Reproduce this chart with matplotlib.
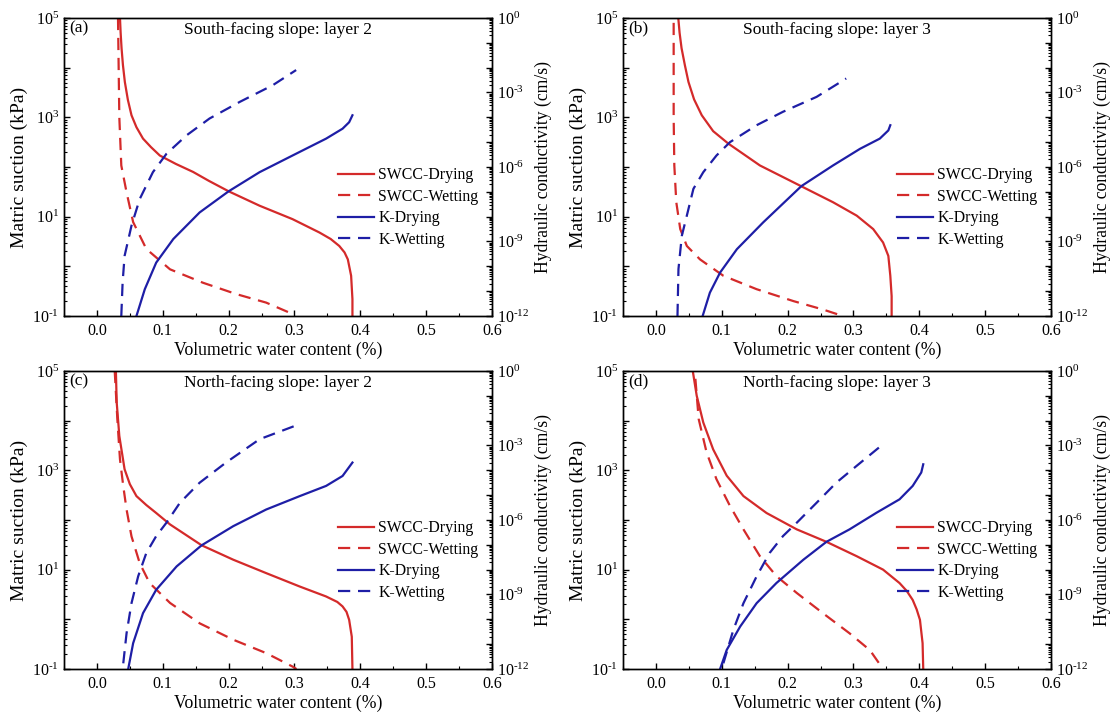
import numpy as np
import matplotlib
matplotlib.use("Agg")
import matplotlib.pyplot as plt
from matplotlib.ticker import LogLocator, FuncFormatter, MultipleLocator, NullFormatter

plt.rcParams['font.family'] = ['Liberation Serif', 'DejaVu Serif']
plt.rcParams['mathtext.fontset'] = 'custom'
plt.rcParams['mathtext.rm'] = 'Liberation Serif'
plt.rcParams['mathtext.it'] = 'Liberation Serif:italic'

# ---- values: theta (-) and log10 of suction (kPa) / K (cm/s)
panel_tags = ['(a)', '(b)', '(c)', '(d)']
panel_titles = ['South-facing slope: layer 2', 'South-facing slope: layer 3',
                'North-facing slope: layer 2', 'North-facing slope: layer 3']

# (a) south, layer 2
a_sd_theta = [0.035, 0.036, 0.0374, 0.0395, 0.0424, 0.047, 0.0525, 0.060, 0.070, 0.082, 0.0955, 0.12, 0.146,
              0.17, 0.200, 0.247, 0.297, 0.338, 0.355, 0.368, 0.376, 0.381, 0.386, 0.388, 0.388]
a_sd_logpsi = [5.0, 4.7, 4.39, 4.05, 3.71, 3.35, 3.04, 2.8, 2.57, 2.4, 2.23, 2.06, 1.90,
               1.72, 1.51, 1.22, 0.95, 0.68, 0.55, 0.41, 0.28, 0.14, -0.19, -0.66, -1.0]
a_sw_theta = [0.032, 0.033, 0.034, 0.037, 0.045, 0.055, 0.075, 0.111, 0.161, 0.212, 0.257, 0.292, 0.297]
a_sw_logpsi = [5.0, 4.0, 3.0, 2.03, 1.49, 0.89, 0.35, -0.06, -0.33, -0.56, -0.73, -0.93, -1.0]
a_kd_theta = [0.060, 0.0727, 0.090, 0.116, 0.156, 0.200, 0.247, 0.297, 0.348, 0.373, 0.383, 0.388]
a_kd_logk = [-12.0, -10.92, -9.85, -8.90, -7.83, -6.98, -6.21, -5.54, -4.86, -4.46, -4.2, -3.92]
a_kw_theta = [0.037, 0.039, 0.042, 0.0525, 0.065, 0.085, 0.1056, 0.136, 0.171, 0.217, 0.267, 0.3025]
a_kw_logk = [-12.0, -10.65, -9.58, -8.36, -7.29, -6.21, -5.47, -4.73, -4.05, -3.38, -2.71, -2.10]

# (b) south, layer 3
b_sd_theta = [0.034, 0.036, 0.039, 0.044, 0.0495, 0.058, 0.0697, 0.087, 0.110, 0.158, 0.221, 0.269,
              0.305, 0.330, 0.345, 0.353, 0.356, 0.358, 0.358]
b_sd_logpsi = [5.0, 4.7, 4.39, 4.05, 3.71, 3.36, 3.04, 2.72, 2.47, 2.03, 1.61, 1.29,
               1.02, 0.75, 0.48, 0.21, -0.19, -0.6, -1.0]
b_sw_theta = [0.027, 0.027, 0.028, 0.031, 0.037, 0.047, 0.067, 0.1025, 0.153, 0.209, 0.254, 0.284]
b_sw_logpsi = [4.9, 3.0, 2.03, 1.29, 0.75, 0.41, 0.14, -0.19, -0.46, -0.70, -0.87, -1.0]
b_kd_theta = [0.071, 0.082, 0.0975, 0.123, 0.163, 0.221, 0.269, 0.310, 0.340, 0.353, 0.356]
b_kd_logk = [-12.0, -11.06, -10.25, -9.31, -8.23, -6.77, -5.94, -5.27, -4.86, -4.53, -4.32]
b_kw_theta = [0.0328, 0.0343, 0.0394, 0.047, 0.057, 0.072, 0.092, 0.1126, 0.153, 0.193, 0.244, 0.289]
b_kw_logk = [-12.0, -10.11, -8.77, -7.96, -6.88, -6.21, -5.54, -5.0, -4.32, -3.78, -3.18, -2.44]

# (c) north, layer 2
c_sd_theta = [0.0288, 0.030, 0.034, 0.042, 0.050, 0.060, 0.075, 0.090, 0.111, 0.159, 0.207, 0.257,
              0.308, 0.348, 0.365, 0.373, 0.379, 0.383, 0.387, 0.388]
c_sd_logpsi = [5.0, 4.37, 3.69, 3.02, 2.72, 2.48, 2.3, 2.14, 1.91, 1.49, 1.20, 0.93,
               0.66, 0.46, 0.35, 0.26, 0.15, -0.01, -0.35, -1.0]
c_sw_theta = [0.027, 0.031, 0.035, 0.040, 0.045, 0.0525, 0.065, 0.080, 0.111, 0.156, 0.207, 0.257, 0.297, 0.303]
c_sw_logpsi = [5.0, 4.03, 3.22, 2.68, 2.21, 1.67, 1.13, 0.73, 0.33, -0.08, -0.41, -0.68, -0.95, -1.0]
c_kd_theta = [0.0475, 0.055, 0.070, 0.090, 0.121, 0.159, 0.207, 0.257, 0.308, 0.348, 0.373, 0.388]
c_kd_logk = [-12.0, -10.96, -9.75, -8.81, -7.87, -7.02, -6.25, -5.58, -5.04, -4.63, -4.23, -3.69]
c_kw_theta = [0.040, 0.045, 0.0525, 0.0626, 0.075, 0.090, 0.1056, 0.126, 0.156, 0.196, 0.247, 0.308]
c_kw_logk = [-11.77, -10.56, -9.35, -8.27, -7.33, -6.65, -6.11, -5.31, -4.50, -3.69, -2.75, -2.14]

# (d) north, layer 3
d_sd_theta = [0.056, 0.062, 0.072, 0.087, 0.1076, 0.133, 0.168, 0.214, 0.259, 0.305, 0.345, 0.370,
              0.381, 0.390, 0.396, 0.401, 0.405, 0.406]
d_sd_logpsi = [5.0, 4.50, 3.96, 3.42, 2.89, 2.48, 2.14, 1.81, 1.56, 1.27, 1.0, 0.73,
               0.57, 0.39, 0.2, -0.01, -0.48, -1.0]
d_sw_theta = [0.060, 0.065, 0.077, 0.092, 0.1126, 0.133, 0.158, 0.183, 0.214, 0.254, 0.294, 0.325, 0.345]
d_sw_logpsi = [4.84, 4.03, 3.36, 2.82, 2.28, 1.81, 1.27, 0.87, 0.53, 0.12, -0.28, -0.62, -1.0]
d_kd_theta = [0.0975, 0.1076, 0.128, 0.153, 0.183, 0.224, 0.259, 0.294, 0.335, 0.370, 0.390, 0.403, 0.406]
d_kd_logk = [-12.0, -11.23, -10.29, -9.35, -8.54, -7.60, -6.88, -6.38, -5.71, -5.17, -4.63, -4.09, -3.76]
d_kw_theta = [0.1025, 0.1177, 0.133, 0.153, 0.1727, 0.193, 0.214, 0.244, 0.274, 0.305, 0.345]
d_kw_logk = [-11.77, -10.42, -9.35, -8.27, -7.33, -6.65, -6.11, -5.31, -4.50, -3.82, -2.95]

swcc_dry = [(a_sd_theta, a_sd_logpsi), (b_sd_theta, b_sd_logpsi), (c_sd_theta, c_sd_logpsi), (d_sd_theta, d_sd_logpsi)]
swcc_wet = [(a_sw_theta, a_sw_logpsi), (b_sw_theta, b_sw_logpsi), (c_sw_theta, c_sw_logpsi), (d_sw_theta, d_sw_logpsi)]
k_dry = [(a_kd_theta, a_kd_logk), (b_kd_theta, b_kd_logk), (c_kd_theta, c_kd_logk), (d_kd_theta, d_kd_logk)]
k_wet = [(a_kw_theta, a_kw_logk), (b_kw_theta, b_kw_logk), (c_kw_theta, c_kw_logk), (d_kw_theta, d_kw_logk)]

RED = '#d42a2a'
BLUE = '#1e1ea6'
LW = 1.6
DASH = (0, (5.5, 3.5))

fig = plt.figure(figsize=(11.15, 7.15), dpi=100)
positions = [(0.0574, 0.558), (0.5587, 0.558), (0.0574, 0.0643), (0.5587, 0.0643)]
W, H = 0.3839, 0.417


def pow_label(e):
    if e < 0:
        return r'$10^{\text{-}%d}$' % (-e)
    return r'$10^{%d}$' % e


def odd_pow(val, pos):
    e = int(round(np.log10(val)))
    return pow_label(e) if e % 2 != 0 else ''


def third_pow(val, pos):
    e = int(round(np.log10(val)))
    return pow_label(e) if e % 3 == 0 else ''


for i in range(4):
    ax = fig.add_axes([positions[i][0], positions[i][1], W, H])
    ax2 = ax.twinx()

    l1, = ax.plot(swcc_dry[i][0], 10 ** np.array(swcc_dry[i][1]), color=RED, lw=LW, label='SWCC-Drying')
    l2, = ax.plot(swcc_wet[i][0], 10 ** np.array(swcc_wet[i][1]), color=RED, lw=LW, ls=DASH, label='SWCC-Wetting')
    l3, = ax2.plot(k_dry[i][0], 10 ** np.array(k_dry[i][1]), color=BLUE, lw=LW, label='K-Drying')
    l4, = ax2.plot(k_wet[i][0], 10 ** np.array(k_wet[i][1]), color=BLUE, lw=LW, ls=DASH, label='K-Wetting')

    ax.set_xlim(-0.05, 0.6)
    ax.set_yscale('log')
    ax.set_ylim(1e-1, 1e5)
    ax2.set_yscale('log')
    ax2.set_ylim(1e-12, 1e0)

    ax.xaxis.set_major_locator(MultipleLocator(0.1))
    ax.xaxis.set_minor_locator(MultipleLocator(0.05))
    ax.xaxis.set_major_formatter(FuncFormatter(lambda v, p: '%.1f' % v))

    ax.yaxis.set_major_locator(LogLocator(base=10, numticks=20))
    ax.yaxis.set_major_formatter(FuncFormatter(odd_pow))
    ax.yaxis.set_minor_locator(LogLocator(base=10, subs=np.arange(2, 10), numticks=20))
    ax.yaxis.set_minor_formatter(NullFormatter())

    ax2.yaxis.set_major_locator(LogLocator(base=10, numticks=20))
    ax2.yaxis.set_major_formatter(FuncFormatter(third_pow))
    ax2.yaxis.set_minor_locator(LogLocator(base=10, subs=np.arange(2, 10), numticks=20))
    ax2.yaxis.set_minor_formatter(NullFormatter())

    for a in (ax, ax2):
        a.tick_params(which='major', direction='in', length=4, width=1, labelsize=11.5)
        a.tick_params(which='minor', direction='in', length=2, width=0.8)
        for s in a.spines.values():
            s.set_linewidth(1.0)
    ax.tick_params(axis='x', pad=5)

    ax.set_xlabel('Volumetric water content (%)', fontsize=12.7, labelpad=2)
    ax.set_ylabel('Matric suction (kPa)', fontsize=14, labelpad=3)
    ax2.set_ylabel('Hydraulic conductivity (cm/s)', fontsize=12.7, labelpad=4)

    ax.text(0.012, 0.99, panel_tags[i], transform=ax.transAxes, ha='left', va='top', fontsize=12.5)
    ax.text(0.5, 0.985, panel_titles[i], transform=ax.transAxes, ha='center', va='top', fontsize=12.5)

    ax2.legend([l1, l2, l3, l4], [l.get_label() for l in (l1, l2, l3, l4)],
               loc='center left', bbox_to_anchor=(0.64, 0.364), frameon=False,
               fontsize=11.4, handlelength=2.3, handletextpad=0.25, labelspacing=0.35,
               borderaxespad=0, borderpad=0)

fig.savefig('out.png', dpi=100)
